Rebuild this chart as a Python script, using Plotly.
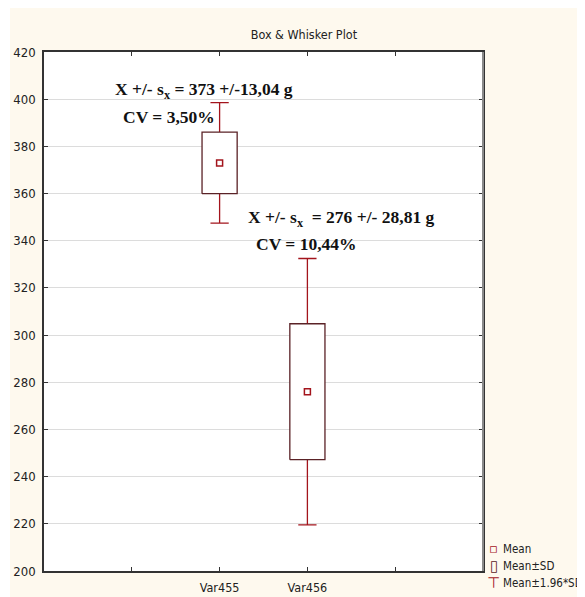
import plotly.graph_objects as go

# ---- data ----
categories = ["Var455", "Var456"]
cat_positions = [2, 3]
means = [373, 276]
sds = [13.04, 28.81]
whisker_factor = 1.96
stat_lines = ["X +/- s<sub>x</sub> = 373 +/-13,04 g", "X +/- s<sub>x</sub>  = 276 +/- 28,81 g"]
cv_lines = ["CV = 3,50%", "CV = 10,44%"]
minor_x_ticks = [1, 4]
y_tickvals = [200, 220, 240, 260, 280, 300, 320, 340, 360, 380, 400, 420]
legend_labels = ["Mean", "Mean±SD", "Mean±1.96*SD"]
legend_keys = ["▫", "▯", "⊤"]

BOX_HALF = 0.2  # half box width in category units (style)

# derived box statistics
box_lo = [m - s for m, s in zip(means, sds)]
box_hi = [m + s for m, s in zip(means, sds)]
wh_lo = [m - whisker_factor * s for m, s in zip(means, sds)]
wh_hi = [m + whisker_factor * s for m, s in zip(means, sds)]

# rectangle outlines for the Mean±SD boxes, built from the stats above
rect_x, rect_y = [], []
for p, lo, hi in zip(cat_positions, box_lo, box_hi):
    rect_x += [p - BOX_HALF, p + BOX_HALF, p + BOX_HALF, p - BOX_HALF, p - BOX_HALF, None]
    rect_y += [lo, lo, hi, hi, lo, None]

RED = "#a3141c"
DARK = "#5a2226"
CREAM = "#fef9ee"
NARROW = "Liberation Sans Narrow, DejaVu Sans Condensed, sans-serif"
SERIF = "Liberation Serif, Times New Roman, serif"
TXT = "#222222"

W, H = 577, 589

fig = go.Figure()

# whiskers (Mean +/- 1.96*SD)
fig.add_trace(go.Box(
    x=cat_positions, q1=means, median=means, q3=means,
    lowerfence=wh_lo, upperfence=wh_hi,
    width=2 * BOX_HALF, whiskerwidth=0.52, boxpoints=False,
    line=dict(color=RED, width=1.3), fillcolor="white",
    showlegend=False, hoverinfo="skip",
))
# boxes (Mean +/- SD)
fig.add_trace(go.Scatter(
    x=rect_x, y=rect_y, mode="lines", fill="toself", fillcolor="white",
    line=dict(color=DARK, width=1.3), showlegend=False, hoverinfo="skip",
))
# means
fig.add_trace(go.Scatter(
    x=cat_positions, y=means, mode="markers",
    marker=dict(symbol="square-open", size=6, color=RED, line=dict(width=1.5, color=RED)),
    showlegend=False,
))

# annotations
ann_font = dict(family=SERIF, size=17.5, color="#111111")
ann_pos = [(0.79, 403.5, 0.88, 392.6), (2.30, 349.5, 2.39, 338.6)]
annotations = []
for (x1, y1, x2, y2), s, c in zip(ann_pos, stat_lines, cv_lines):
    annotations.append(dict(x=x1, y=y1, xref="x", yref="y", text="<b>" + s + "</b>",
                            showarrow=False, xanchor="left", yanchor="middle", font=ann_font))
    annotations.append(dict(x=x2, y=y2, xref="x", yref="y", text="<b>" + c + "</b>",
                            showarrow=False, xanchor="left", yanchor="middle", font=ann_font))

# legend (drawn as text, to the right of the plot)
legend_rows = [0.0424, 0.0096, -0.0231]
key_colors = [RED, DARK, RED]
key_sizes = [13, 15, 15]
for lab, key, yy, kc, ks in zip(legend_labels, legend_keys, legend_rows, key_colors, key_sizes):
    annotations.append(dict(x=1.0245, y=yy, xref="paper", yref="paper", text=key,
                            showarrow=False, xanchor="center", yanchor="middle",
                            font=dict(family="DejaVu Sans", size=ks, color=kc)))
    annotations.append(dict(x=1.040, y=yy, xref="paper", yref="paper", text=lab,
                            showarrow=False, xanchor="left", yanchor="middle",
                            font=dict(family=NARROW, size=11.5, color=TXT)))

fig.update_layout(
    width=W, height=H,
    margin=dict(l=36, r=102, t=44, b=26, autoexpand=False),
    paper_bgcolor=CREAM, plot_bgcolor="white",
    boxmode="overlay",
    showlegend=False,
    title=dict(text="Box & Whisker Plot", x=0.592, xref="paper", xanchor="center",
               y=1 - 27 / H, yref="container", yanchor="middle",
               font=dict(family=NARROW, size=12.5, color=TXT)),
    annotations=annotations,
    shapes=[
        dict(type="rect", xref="paper", yref="paper", xsizemode="pixel", ysizemode="pixel",
             xanchor=0, yanchor=1, x0=-36, x1=-34, y0=-600, y1=60,
             fillcolor="white", line=dict(width=0), layer="below"),
        dict(type="line", xref="paper", yref="paper", x0=1, x1=1, y0=0, y1=1,
             line=dict(color="#8a8a8a", width=2), layer="above"),
    ],
)

fig.update_xaxes(
    range=[0, 5], tickmode="array", tickvals=cat_positions, ticktext=categories,
    showgrid=False, zeroline=False,
    showline=True, linecolor="#333333", linewidth=1.5, mirror="ticks",
    ticks="inside", ticklen=4, tickcolor="#333333",
    minor=dict(tickmode="array", tickvals=minor_x_ticks, ticks="inside", ticklen=4,
               tickcolor="#333333", showgrid=False),
    tickfont=dict(family=NARROW, size=12.5, color=TXT), ticklabelstandoff=4,
)
fig.update_yaxes(
    range=[200, 420], tickmode="array", tickvals=y_tickvals,
    showgrid=True, gridcolor="#dcdcdc", gridwidth=1, zeroline=False,
    showline=True, linecolor="#333333", linewidth=1.5, mirror="ticks",
    ticks="inside", ticklen=4, tickcolor="#333333",
    tickfont=dict(family=NARROW, size=13, color=TXT), ticklabelstandoff=4,
)

fig.write_html("out.html")
